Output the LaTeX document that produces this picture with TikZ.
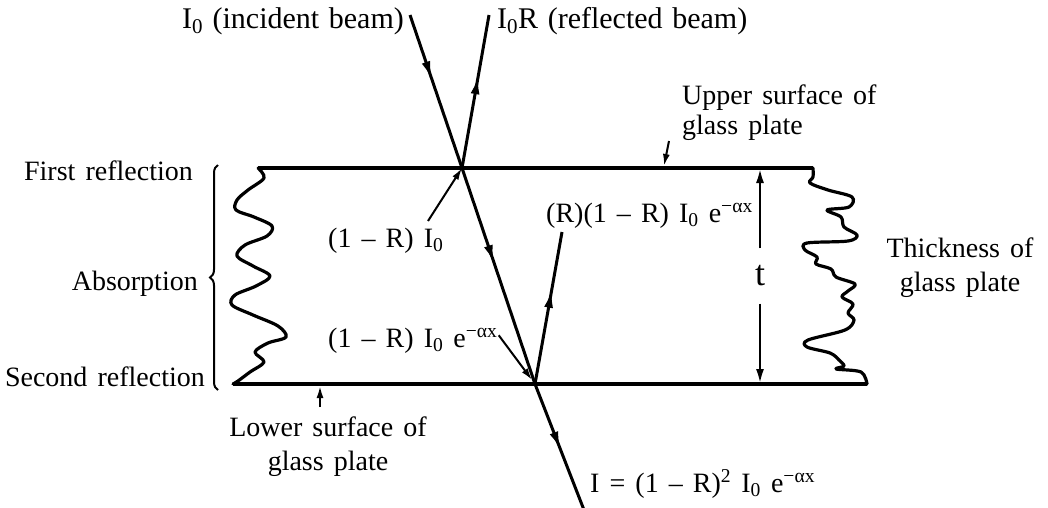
\documentclass[tikz,border=0pt]{standalone}
\usepackage{fontspec}
\setmainfont{Liberation Serif}
\usetikzlibrary{arrows.meta,decorations.markings,decorations.pathreplacing}

\begin{document}
\begin{tikzpicture}[x=1pt, y=-1pt,
    surface/.style={line width=4pt},
    edge/.style={line width=3.2pt, line join=round, line cap=round},
    beam/.style={line width=3pt, postaction={decorate},
        decoration={markings, mark=at position #1 with {\arrow{Latex[length=18pt,width=9pt]}}}},
    pointer/.style={line width=2pt, -{Latex[length=12pt,width=7pt]}},
    dimline/.style={line width=2.6pt, -{Latex[length=15pt,width=8pt]}},
    lbl/.style={font={\fontsize{28}{34}\selectfont\spaceskip=0.36em plus 0.1em}, inner sep=0pt},
    big lbl/.style={lbl, font={\fontsize{30}{34}\selectfont\spaceskip=0.32em plus 0.1em}}
]
    \useasboundingbox (0,0) rectangle (1048,507);

    % the plate
    \coordinate (ulc) at (258,168);
    \coordinate (urc) at (813,168);
    \coordinate (llc) at (233,384);
    \coordinate (lrc) at (867,384);
    \draw[surface] (ulc) -- (urc);
    \draw[surface] (llc) -- (lrc);
    \draw[edge] plot[smooth, tension=0.55] coordinates {(258,168) (264,178) (248,190) (237,200)
        (236,210) (254,217) (272,226) (267,236) (245,245) (237,256) (253,266) (270,276)
        (256,286) (235,295) (232,305) (253,315) (278,326) (286,337) (268,343) (255,352)
        (264,362) (250,372) (238,381) (233,384)};
    \draw[edge] plot[smooth, tension=0.55] coordinates {(813,168) (813,177) (810,183) (828,190)
        (852,197) (849,207) (827,210) (841,217) (844,227) (857,235) (848,241) (807,243)
        (805,250) (817,257) (816,264) (831,269) (836,277) (855,284) (848,291) (842,297)
        (853,304) (848,313) (854,320) (845,330) (808,340) (807,347) (830,353) (839,360)
        (844,366) (836,369) (861,372) (867,384)};

    % beams
    \coordinate (inTop) at (410,15);
    \coordinate (reTop) at (489,15);
    \coordinate (hitA) at (462,168);
    \coordinate (hitB) at (535,384);
    \coordinate (reInt) at (562,232);
    \coordinate (outBot) at (584,510);
    \draw[beam=0.42] (inTop) -- (hitA);
    \draw[beam=0.6] (hitA) -- (reTop);
    \draw[beam=0.44] (hitA) -- (hitB);
    \draw[beam=0.62] (hitB) -- (reInt);
    \draw[beam=0.52] (hitB) -- (outBot);

    % labels of the beams
    \node[big lbl, anchor=base east] (incLbl) at (404,28) {I\textsubscript{0} (incident beam)};
    \node[big lbl, anchor=base west] (refLbl) at (497,28) {I\textsubscript{0}R (reflected beam)};
    \node[lbl, anchor=base west] (trA) at (328,247) {(1 – R) I\textsubscript{0}};
    \node[lbl, anchor=base west] (trB) at (328,347) {(1 – R) I\textsubscript{0} e\textsuperscript{−αx}};
    \node[lbl, anchor=base west] (rfB) at (546,222) {(R)(1 – R) I\textsubscript{0} e\textsuperscript{−αx}};
    \node[lbl, anchor=base west] (outLbl) at (590,492) {I = (1 – R)\textsuperscript{2} I\textsubscript{0} e\textsuperscript{−αx}};
    \coordinate (trAp) at (428,221);
    \draw[pointer] (trAp) -- (hitA);
    \draw[pointer, shorten >=5pt] (trB.east) ++(1,-5) coordinate (trBp) -- (hitB);

    % surfaces
    \node[lbl, anchor=base west] (upLbl) at (682,104) {Upper surface of};
    \node[lbl, anchor=base west] (upLblb) at (682,134) {glass plate};
    \coordinate (upTail) at (669,141);
    \coordinate (upTip) at (664,166);
    \draw[pointer] (upTail) -- (upTip);
    \node[lbl, align=center] (lowLbl) at (328,447) {Lower surface of\\glass plate};
    \coordinate (lowTail) at (320,407);
    \coordinate (lowTip) at (320,386);
    \draw[pointer] (lowTail) -- (lowTip);

    % left side
    \node[lbl, anchor=base east] (firstLbl) at (193,180) {First reflection};
    \node[lbl, anchor=base east] (absLbl) at (198,290) {Absorption};
    \node[lbl, anchor=base east] (secLbl) at (205,386) {Second reflection};
    \coordinate (brBot) at (218,390);
    \coordinate (brTop) at (218,165);
    \draw[line width=2pt, decorate, decoration={brace, amplitude=8pt}] (brBot) -- (brTop);

    % thickness
    \node[lbl, font=\fontsize{36}{36}\selectfont, minimum height=55pt] (tlab) at (760,276) {t};
    \coordinate (tTop) at (760,168);
    \coordinate (tBot) at (760,384);
    \draw[dimline] (tlab.north) -- (tTop);
    \draw[dimline] (tlab.south) -- (tBot);
    \node[lbl, align=center] (thick) at (960,268) {Thickness of\\glass plate};
\end{tikzpicture}
\end{document}
